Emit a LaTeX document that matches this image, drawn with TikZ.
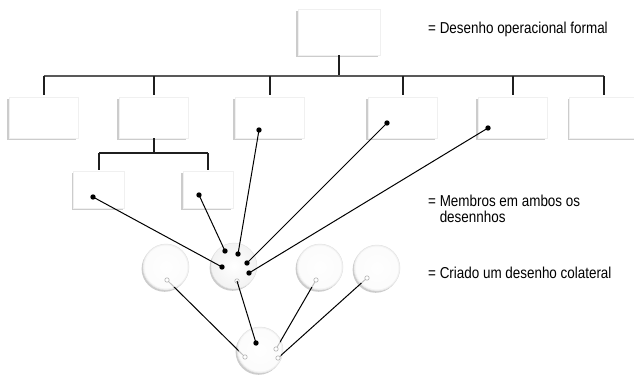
\documentclass[tikz,border=0pt]{standalone}
\usepackage{fontspec}
\setmainfont{Liberation Sans}[FakeStretch=0.85]
\usetikzlibrary{shadows}
\begin{document}
\begin{tikzpicture}[x=1pt,y=-1pt,
  orgbox/.style={rectangle, fill=white, draw=gray!12, line width=0.4pt, inner sep=0pt,
    drop shadow={shadow xshift=-1.6pt, shadow yshift=-1.8pt, fill=gray!40, opacity=1}},
  member/.style={circle, inner color=white, outer color=gray!10, draw=gray!22, line width=0.5pt,
    inner sep=0pt, minimum size=46pt,
    drop shadow={shadow xshift=-1.4pt, shadow yshift=-1.8pt, fill=gray!40, opacity=1}},
  tree/.style={line width=2pt, black!88},
  rail/.style={line width=1.6pt, black!65},
  link/.style={line width=1pt, black},
  dot/.style={fill=black},
  pin/.style={draw=gray!60, fill=white, line width=0.6pt},
  fade/.style={fill=white, opacity=0.75},
  legend/.style={font=\fontsize{15.8}{16}\selectfont, anchor=base west, inner sep=0pt}
]
\useasboundingbox (0,0) rectangle (634,375);

% formal organisation chart
\node[orgbox, minimum width=82pt, minimum height=46pt] (top) at (339,32) {};
\foreach \n/\x in {b1/43.5, b2/153.5, b3/269.5, b4/402.5, b5/512.5, b6/604}
  \node[orgbox, minimum width=69pt, minimum height=41pt] (\n) at (\x,117.5) {};
\node[orgbox, minimum width=51pt, minimum height=37pt] (s1) at (99,189.5) {};
\node[orgbox, minimum width=50pt, minimum height=37pt] (s2) at (208,189.5) {};

\coordinate (hub) at (339,76);
\coordinate (subhub) at (153.5,153);
\draw[tree] (top.south) -- (hub);
\draw[rail] (b1.north |- hub) -- (b6.north |- hub);
\foreach \n in {b1,b2,b3,b4,b5,b6}
  \draw[tree] (\n.north |- hub) -- ([yshift=1.5pt]\n.north);
\draw[tree] (b2.south) -- (subhub);
\draw[tree] (s1.north |- subhub) -- (s2.north |- subhub);
\foreach \n in {s1,s2}
  \draw[tree] (\n.north |- subhub) -- ([yshift=1pt]\n.north);

% collateral organisation
\node[member] (c1) at (166,267) {};
\node[member] (c2) at (234,266) {};
\node[member] (c3) at (320,267) {};
\node[member] (c4) at (377,268) {};
\node[member] (cb) at (260,350) {};

\coordinate (m1) at (167,280);
\coordinate (m2) at (237,281);
\coordinate (m3) at (316,280);
\coordinate (m4) at (367,278);
\coordinate (mb1) at (245,357);
\coordinate (mb3) at (276,349);
\coordinate (mb4) at (278,358);

\draw[link] (m1) -- (mb1);
\draw[link] (m3) -- (mb3);
\draw[link] (m4) -- (mb4);
\foreach \n in {c1,c3,c4,cb}
  \fill[fade] (\n) circle (21.5pt);
\foreach \m in {m1,m2,m3,m4,mb1,mb3,mb4}
  \draw[pin] (\m) circle (2.2pt);

% members shared by both charts
\coordinate (d1) at (93,197);
\coordinate (d2) at (199,195);
\coordinate (d3) at (259,130);
\coordinate (d4) at (387,123);
\coordinate (d5) at (488,128);
\coordinate (e1) at (222,267);
\coordinate (e2) at (225,251);
\coordinate (e3) at (238,254);
\coordinate (e4) at (247,263);
\coordinate (e5) at (249,273);
\coordinate (db) at (256,343);

\foreach \a/\b in {d1/e1, d2/e2, d3/e3, d4/e4, d5/e5}
  \draw[link] (\a) -- (\b);
\draw[link] (m2) -- (db);
\foreach \p in {d1,d2,d3,d4,d5,e1,e2,e3,e4,e5,db}
  \fill[dot] (\p) circle (2.7pt);

% legend
\node[legend] (l1) at (428,33.5) {= Desenho operacional formal};
\node[legend] (l2) at (428,206.5)
  {\begin{tabular}[t]{@{}l@{}}= Membros em ambos os\\\phantom{= }desennhos\end{tabular}};
\node[legend] (l3) at (428,278.5) {= Criado um desenho colateral};
\end{tikzpicture}
\end{document}
